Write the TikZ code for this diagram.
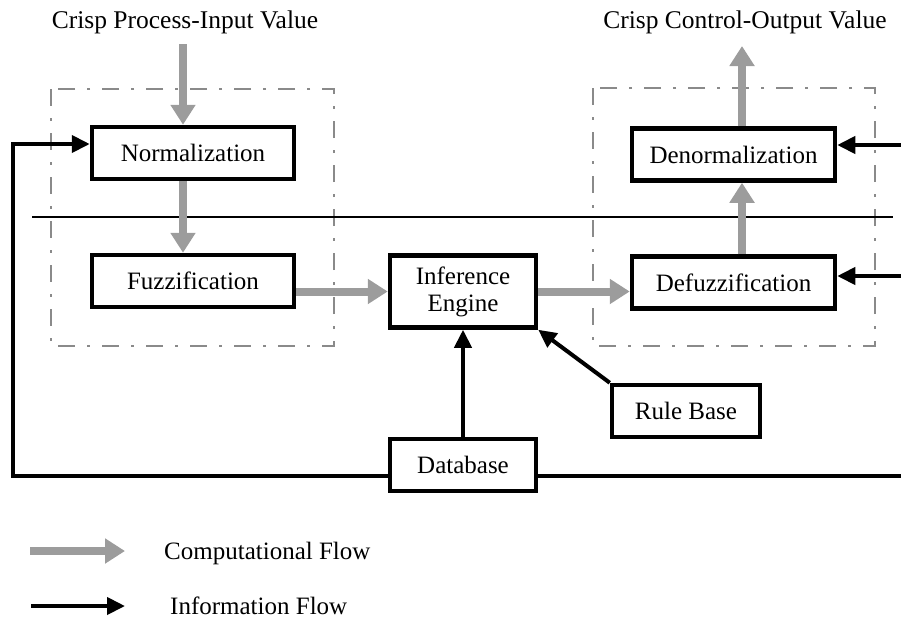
\documentclass[tikz,border=0pt]{standalone}
\usepackage{fontspec}
\setmainfont{Liberation Serif}
\usetikzlibrary{arrows.meta}
\definecolor{flowgray}{HTML}{9C9C9C}
\definecolor{framegray}{HTML}{8A8A8A}
\newcommand{\lblfont}{\fontsize{25}{29}\selectfont}
\newcommand{\headfont}{\fontsize{25.5}{29}\selectfont}
\begin{document}
\begin{tikzpicture}[x=1pt,y=-1pt,
  block/.style={draw, line width=4.5pt, inner sep=0pt, align=center, font=\lblfont},
  comp/.style={draw=flowgray, line width=8pt,
    -{Triangle[length=20pt,width=24pt,fill=flowgray]}},
  info/.style={draw=black, line width=4pt,
    -{Triangle[length=18pt,width=17pt]}},
  infoline/.style={draw=black, line width=4pt},
  frame/.style={draw=framegray, line width=2.8pt,
    dash pattern=on 17pt off 12pt on 3pt off 12pt},
  caption/.style={font=\lblfont, inner sep=0pt}]

\useasboundingbox (0,0) rectangle (901,619);

% headings
\node[caption, font=\headfont, anchor=base] (inlabel) at (185,28) {Crisp Process-Input Value};
\node[caption, font=\headfont, anchor=base] (outlabel) at (745,28) {Crisp Control-Output Value};

% dash-dot groups
\draw[frame] (51,89) rectangle (334,346);
\draw[frame] (593,88) rectangle (875,346);

% separator
\draw[line width=1.3pt] (32,217) -- (893,217);

% blocks
\node[block, minimum width=202pt, minimum height=52pt] (norm) at (193,153) {Normalization};
\node[block, minimum width=202pt, minimum height=52pt] (fuzz) at (193,281) {Fuzzification};
\node[block, minimum width=146pt, minimum height=72pt] (inf) at (463,291.5) {Inference\\[-2pt]Engine};
\node[block, minimum width=203pt, minimum height=52pt] (defuzz) at (733.5,282.5) {Defuzzification};
\node[block, minimum width=203pt, minimum height=52pt] (denorm) at (733.5,154.5) {Denormalization};
\node[block, minimum width=148pt, minimum height=52pt] (rule) at (686,411) {Rule Base};
\node[block, minimum width=146pt, minimum height=52pt] (db) at (463,465) {Database};

% free ends
\coordinate (inTop) at (183,44);
\coordinate (outTop) at (742,46);
\coordinate (fbL) at (13,476);
\coordinate (fbR) at (901,476);
\coordinate (rA) at (901,145);
\coordinate (rB) at (901,276);

% computational flow
\draw[comp] (inTop) -- (inTop |- norm.north);
\draw[comp] (inTop |- norm.south) -- (inTop |- fuzz.north);
\draw[comp] (fuzz.east |- inf.west) -- (inf.west);
\draw[comp] (inf.east) -- (inf.east -| defuzz.west);
\draw[comp] (outTop |- defuzz.north) -- (outTop |- denorm.south);
\draw[comp] (outTop |- denorm.north) -- (outTop);

% information flow
\draw[info] (db.north) -- (inf.south);
\draw[info] (rule.north west) -- (inf.south east);
\draw[info] (db.west |- fbL) -- (fbL) |- ([yshift=9pt]norm.west);
\draw[infoline] (db.east |- fbR) -- (fbR);
\draw[info] (rA) -- (rA -| denorm.east);
\draw[info] (rB) -- (rB -| defuzz.east);

% legend
\coordinate (lg1a) at (30,551);
\coordinate (lg1b) at (125,551);
\coordinate (lg2a) at (31,606);
\coordinate (lg2b) at (125,606);
\draw[comp] (lg1a) -- (lg1b);
\draw[info] (lg2a) -- (lg2b);
\node[caption, anchor=base west] (lgtext1) at (164,559) {Computational Flow};
\node[caption, anchor=base west] (lgtext2) at (170,614) {Information Flow};
\end{tikzpicture}
\end{document}
